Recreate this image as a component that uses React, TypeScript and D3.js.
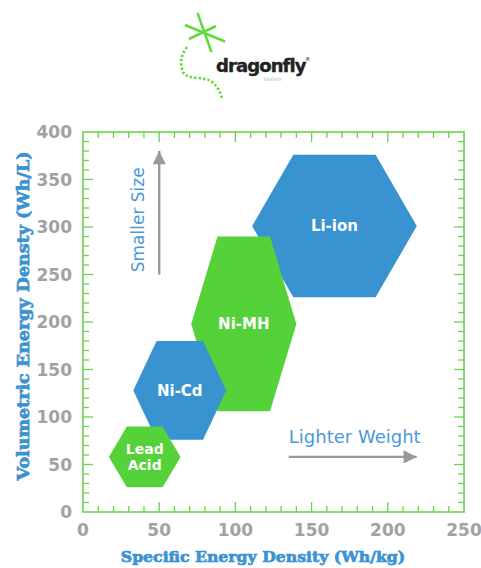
import { useEffect, useRef } from "react"
import * as d3 from "d3"

// battery chemistries, drawn back to front
const chemistries = ["Li-ion", "Ni-MH", "Ni-Cd", "Lead Acid"]
const specificMin = [111, 71, 33, 17]
const specificMax = [219, 140, 94, 64]
const volumetricMin = [226, 106, 76, 26]
const volumetricMax = [376, 290, 180, 90]
const fills = ["#3a93d1", "#55d13a", "#3a93d1", "#55d13a"]

const xTickLabels = [0, 50, 100, 150, 200, 250]
const yTickLabels = [0, 50, 100, 150, 200, 250, 300, 350, 400]

// annotation arrows (data units)
const sizeArrow = { x: 50, from: 250, to: 380 }
const weightArrow = { y: 58, from: 135, to: 219 }

const W = 481
const H = 568

export default function App() {
  const svgRef = useRef<SVGSVGElement>(null)

  useEffect(() => {
    if (!svgRef.current) return
    const svg = d3.select(svgRef.current)
    svg.selectAll("*").remove()

    const margin = { top: 132, right: 17, bottom: 56, left: 83 }
    const x = d3.scaleLinear().domain([0, 250]).range([margin.left, W - margin.right])
    const y = d3.scaleLinear().domain([0, 400]).range([H - margin.bottom, margin.top])

    const frameColor = "#6bd24c"
    const blue = "#3b92d1"
    const grey = "#a2a2a2"

    // --- logo
    const logo = svg.append("g")
    const lime = "#5fdc3c"
    ;[
      [197.5, 13, 211.5, 52],
      [185, 25, 225, 41.5],
      [189, 39, 216, 26],
    ].forEach(([x1, y1, x2, y2]) => {
      logo.append("line").attr("x1", x1).attr("y1", y1).attr("x2", x2).attr("y2", y2)
        .attr("stroke", lime).attr("stroke-width", 2.6)
    })
    logo.append("path")
      .attr("d", "M187,47 C180,56 180,64 183,72 C186,80 205,76 212,82 C218,87 220,92 222,98")
      .attr("fill", "none").attr("stroke", lime).attr("stroke-width", 2.6)
      .attr("stroke-dasharray", "2.4,2")
    logo.append("text").attr("x", 216).attr("y", 72)
      .attr("font-family", "DejaVu Sans").attr("font-weight", 700).attr("font-size", 18)
      .attr("letter-spacing", -0.9).attr("fill", "#222")
      .attr("stroke", "#222").attr("stroke-width", 0.4).text("dragonfly")
    logo.append("text").attr("x", 305).attr("y", 61)
      .attr("font-family", "DejaVu Sans").attr("font-size", 5.5).attr("fill", "#222").text("®")
    logo.append("text").attr("x", 264).attr("y", 81)
      .attr("font-family", "DejaVu Sans").attr("font-size", 4.5).attr("fill", "#bbb").text("ENERGY")

    // --- hexagons
    const line = d3.line<[number, number]>().x((d) => x(d[0])).y((d) => y(d[1]))
    chemistries.forEach((name, i) => {
      const x0 = specificMin[i]
      const x1 = specificMax[i]
      const y0 = volumetricMin[i]
      const y1 = volumetricMax[i]
      const inset = (x1 - x0) * 0.25
      const yc = (y0 + y1) / 2
      const pts: [number, number][] = [
        [x0, yc], [x0 + inset, y1], [x1 - inset, y1], [x1, yc], [x1 - inset, y0], [x0 + inset, y0],
      ]
      svg.append("path").attr("d", line(pts) + "Z").attr("fill", fills[i])

      const words = name.split(" ")
      const cx = x((x0 + x1) / 2)
      const cy = y(yc)
      words.forEach((w, k) => {
        svg.append("text")
          .attr("x", cx)
          .attr("y", cy + (k - (words.length - 1) / 2) * 16)
          .attr("dy", "0.36em")
          .attr("text-anchor", "middle")
          .attr("font-family", "DejaVu Sans")
          .attr("font-weight", 700)
          .attr("font-size", words.length > 1 ? 14 : 15)
          .attr("fill", "#fff")
          .text(w)
      })
    })

    // --- frame and inward ticks
    const [xl, xr] = x.range()
    const [yb, yt] = y.range()
    svg.append("rect").attr("x", xl).attr("y", yt).attr("width", xr - xl).attr("height", yb - yt)
      .attr("fill", "none").attr("stroke", frameColor).attr("stroke-width", 1.6)

    const ticks = svg.append("g").attr("stroke", frameColor).attr("stroke-width", 1.3)
    d3.range(10, 250, 10).forEach((v) => {
      const len = v % 50 === 0 ? 10 : 6
      ticks.append("line").attr("x1", x(v)).attr("x2", x(v)).attr("y1", yb).attr("y2", yb - len)
      ticks.append("line").attr("x1", x(v)).attr("x2", x(v)).attr("y1", yt).attr("y2", yt + len)
    })
    d3.range(10, 400, 10).forEach((v) => {
      const len = v % 50 === 0 ? 10 : 6
      ticks.append("line").attr("y1", y(v)).attr("y2", y(v)).attr("x1", xl).attr("x2", xl + len)
      ticks.append("line").attr("y1", y(v)).attr("y2", y(v)).attr("x1", xr).attr("x2", xr - len)
    })

    // --- tick labels
    const labelStyle = (t: d3.Selection<SVGTextElement, unknown, null, undefined>) =>
      t.attr("font-family", "DejaVu Sans").attr("font-weight", 700).attr("font-size", 17).attr("fill", grey)
    yTickLabels.forEach((v) => {
      svg.append("text").attr("x", xl - 11).attr("y", y(v)).attr("dy", "0.36em")
        .attr("text-anchor", "end").call(labelStyle).text(v)
    })
    xTickLabels.forEach((v) => {
      svg.append("text").attr("x", x(v)).attr("y", yb + 18).attr("dy", "0.36em")
        .attr("text-anchor", "middle").call(labelStyle).text(v)
    })

    // --- axis titles
    svg.append("text").attr("x", 263).attr("y", 562)
      .attr("text-anchor", "middle").attr("font-family", "DejaVu Serif").attr("font-weight", 900)
      .attr("font-size", 15.7).attr("fill", blue).attr("stroke", blue).attr("stroke-width", 0.7)
      .text("Specific Energy Density (Wh/kg)")
    svg.append("text")
      .attr("transform", `translate(29,316) rotate(-90)`)
      .attr("text-anchor", "middle").attr("font-family", "DejaVu Serif").attr("font-weight", 900)
      .attr("font-size", 17.5).attr("fill", blue).attr("stroke", blue).attr("stroke-width", 0.7)
      .text("Volumetric Energy Densty (Wh/L)")

    // --- annotations
    const defs = svg.append("defs")
    defs.append("marker").attr("id", "arrow").attr("viewBox", "0 0 10 10")
      .attr("refX", 10).attr("refY", 5).attr("markerWidth", 6.5).attr("markerHeight", 5.5)
      .attr("markerUnits", "strokeWidth").attr("orient", "auto")
      .append("path").attr("d", "M0,0L10,5L0,10Z").attr("fill", "#999")

    svg.append("line").attr("x1", x(sizeArrow.x)).attr("x2", x(sizeArrow.x))
      .attr("y1", y(sizeArrow.from)).attr("y2", y(sizeArrow.to))
      .attr("stroke", "#999").attr("stroke-width", 2.4).attr("marker-end", "url(#arrow)")
    svg.append("text")
      .attr("transform", `translate(${x(sizeArrow.x) - 15},${y((sizeArrow.from + sizeArrow.to) / 2) + 7}) rotate(-90)`)
      .attr("text-anchor", "middle").attr("font-family", "DejaVu Sans").attr("font-size", 17)
      .attr("fill", "#4a9ad6").text("Smaller Size")

    svg.append("line").attr("y1", y(weightArrow.y)).attr("y2", y(weightArrow.y))
      .attr("x1", x(weightArrow.from)).attr("x2", x(weightArrow.to))
      .attr("stroke", "#999").attr("stroke-width", 2.4).attr("marker-end", "url(#arrow)")
    svg.append("text")
      .attr("x", x((weightArrow.from + weightArrow.to) / 2) + 2).attr("y", y(weightArrow.y) - 14)
      .attr("text-anchor", "middle").attr("font-family", "DejaVu Sans").attr("font-size", 18)
      .attr("fill", "#4a9ad6").text("Lighter Weight")
  }, [])

  return (
    <svg
      ref={svgRef}
      width={W}
      height={H}
      style={{ position: "absolute", left: 0, top: 0, background: "#fff" }}
    />
  )
}
